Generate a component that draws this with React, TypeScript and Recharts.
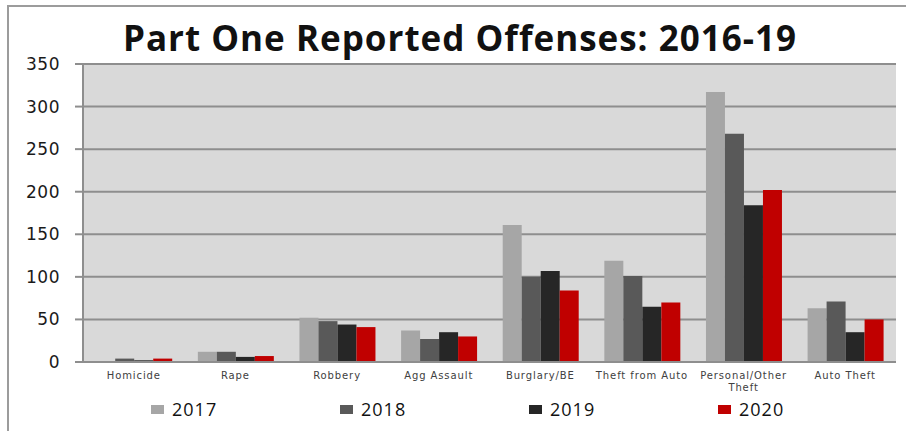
import { BarChart, Bar, XAxis, YAxis, CartesianGrid } from 'recharts';

const categories = ['Homicide', 'Rape', 'Robbery', 'Agg Assault', 'Burglary/BE', 'Theft from Auto', 'Personal/Other Theft', 'Auto Theft'];
const years = ['2017', '2018', '2019', '2020'];
const colors = ['#a6a6a6', '#595959', '#262626', '#c00000'];

const values2017 = [1, 12, 52, 37, 161, 119, 317, 63];
const values2018 = [4, 12, 48, 27, 100, 101, 268, 71];
const values2019 = [2, 6, 44, 35, 107, 65, 184, 35];
const values2020 = [4, 7, 41, 30, 84, 70, 202, 50];

const yTicks = [0, 50, 100, 150, 200, 250, 300, 350];

const seriesValues = [values2017, values2018, values2019, values2020];

const data = categories.map((name, i) => {
  const row: Record<string, string | number> = { name };
  years.forEach((y, k) => { row[y] = seriesValues[k][i]; });
  return row;
});

// split long labels into two lines, like the original does
const wrapLabel = (s: string) => {
  if (s.length <= 15) return [s];
  const cut = s.lastIndexOf(' ');
  return [s.slice(0, cut), s.slice(cut + 1)];
};

const CategoryTick = (props: any) => {
  const { x, y, payload } = props;
  const lines = wrapLabel(String(payload.value));
  return (
    <text x={x} y={y} textAnchor="middle" fill="#404040"
      style={{ fontFamily: 'DejaVu Sans', fontSize: 10, letterSpacing: 0.9 }}>
      {lines.map((l, i) => (
        <tspan key={i} x={x} dy={i === 0 ? '0.71em' : 12}>{l}</tspan>
      ))}
    </text>
  );
};

const App = () => {
  return (
    <div style={{ position: 'absolute', left: 0, top: 0, width: 906, height: 431, background: '#fff', overflow: 'hidden' }}>
      <div style={{ position: 'absolute', left: 7, top: 5, right: -10, bottom: -10, borderLeft: '2px solid #9c9c9c', borderTop: '2px solid #9c9c9c' }} />
      <div style={{ position: 'absolute', left: 0, top: 0 }}>
        <BarChart width={906} height={431} data={data} margin={{ top: 64, right: 10, left: 0, bottom: 39 }}
          barCategoryGap="13%" barGap={0}>
          <CartesianGrid vertical={false} fill="#d9d9d9" stroke="#8e8e8e" strokeWidth={2} />
          <XAxis dataKey="name" height={30} tickSize={0} tickMargin={10} tick={<CategoryTick />}
            axisLine={{ stroke: '#8e8e8e', strokeWidth: 2 }} tickLine={false} interval={0} />
          <YAxis width={83} domain={[0, 350]} ticks={yTicks} tickSize={8} tickMargin={15}
            axisLine={{ stroke: '#8e8e8e', strokeWidth: 2 }} tickLine={{ stroke: '#8e8e8e', strokeWidth: 2 }}
            tick={{ fill: '#1a1a1a', fontSize: 17, fontFamily: 'DejaVu Sans', letterSpacing: 0.5 }} />
          <YAxis yAxisId="r" orientation="right" width={0} domain={[0, 350]} tick={false} tickLine={false}
            axisLine={{ stroke: '#8e8e8e', strokeWidth: 2 }} />
          {years.map((y, k) => (
            <Bar key={y} dataKey={y} fill={colors[k]} isAnimationActive={false} />
          ))}
        </BarChart>
      </div>
      <div style={{ position: 'absolute', left: 0, width: 920, top: 15, textAlign: 'center', fontFamily: 'Open Sans', fontWeight: 700, fontSize: 35, letterSpacing: 1, color: '#111', lineHeight: '46px' }}>
        Part One Reported Offenses: 2016-19
      </div>
      <div style={{ position: 'absolute', left: 151, top: 398, display: 'flex' }}>
        {years.map((y, k) => (
          <div key={y} style={{ width: 189, display: 'flex', alignItems: 'center' }}>
            <span style={{ width: 13, height: 9, background: colors[k], display: 'inline-block', marginRight: 8 }} />
            <span style={{ fontFamily: 'Open Sans', fontSize: 18, letterSpacing: 1, color: '#111', lineHeight: '22px' }}>{y}</span>
          </div>
        ))}
      </div>
    </div>
  );
};

export default App;
